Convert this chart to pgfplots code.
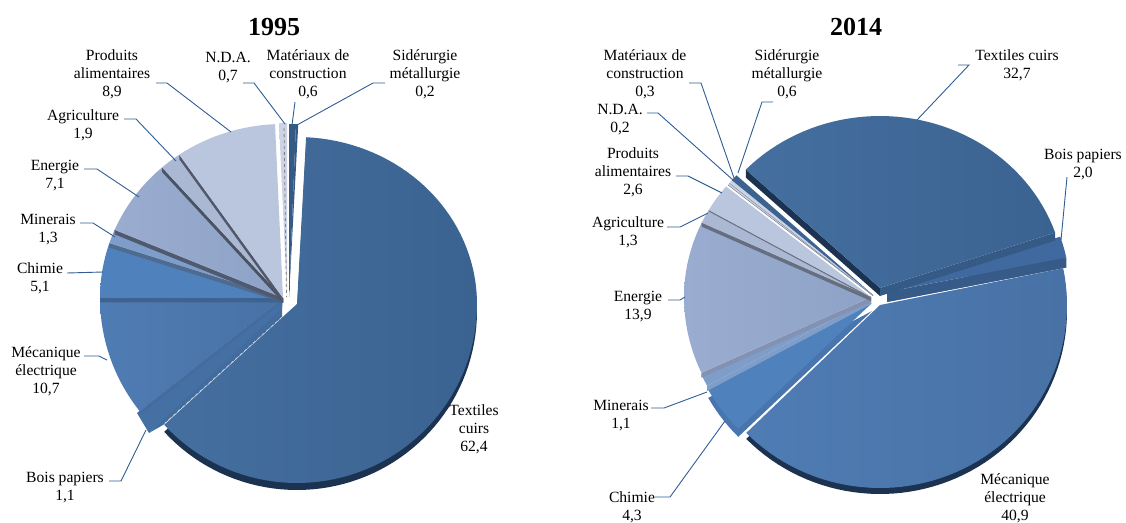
\documentclass[border=0pt]{standalone}
\usepackage{fontspec}
\setmainfont{Liberation Serif}
\usepackage{pgfplots}
\pgfplotsset{compat=1.18}

% Slice colours
\definecolor{leader}{HTML}{2F5D94}
\definecolor{texL}{HTML}{446F9F}\definecolor{texR}{HTML}{3B6391}
\definecolor{mecL}{HTML}{4F7CB4}\definecolor{mecR}{HTML}{4872A6}
\definecolor{chi}{HTML}{4F81BD}
\definecolor{mine}{HTML}{7E9DC9}
\definecolor{eneL}{HTML}{9AADD0}\definecolor{eneR}{HTML}{8EA2C7}
\definecolor{agri}{HTML}{ABB8D4}
\definecolor{prod}{HTML}{BAC6DE}
\definecolor{nda}{HTML}{CBD3E5}
\definecolor{dark}{HTML}{345A85}
\definecolor{rim}{HTML}{1B3350}
\definecolor{bois}{HTML}{4570A4}\definecolor{boisw}{HTML}{426B9E}
\definecolor{mecw}{HTML}{446C9E}\definecolor{chiw}{HTML}{3F6390}
\definecolor{minw}{HTML}{4F6B90}\definecolor{enew}{HTML}{4F5A6E}
\definecolor{agrw}{HTML}{4A5362}\definecolor{prow}{HTML}{50586A}
\definecolor{chiwb}{HTML}{4875AD}\definecolor{enewb}{HTML}{8391B3}
\definecolor{agrwb}{HTML}{666F80}\definecolor{prowb}{HTML}{6B7385}
\definecolor{ndawb}{HTML}{7A8290}\definecolor{matwb}{HTML}{8A93A5}
\definecolor{sidb}{HTML}{3B6391}\definecolor{boiswb}{HTML}{375B88}
\definecolor{boisb}{HTML}{406A9F}

% Ellipse of the current pie: centre, x radius, back and front y radii
\newcommand\pieat[5]{\def\pcx{#1}\def\pcy{#2}\def\prx{#3}\def\pryb{#4}\def\pryf{#5}}
% Angle of the first slice, clockwise from the top
\newcommand\pieoff[1]{\def\poff{#1}}

% Outline of a slice: start share, share, downward shift; result in \ptsG
\newcommand\slicepts[3]{%
  \pgfmathsetmacro\pa{\poff+#1*3.6}%
  \pgfmathsetmacro\psw{#2*3.6}%
  \pgfmathtruncatemacro\pn{max(2,ceil(\psw/2.5))}%
  \pgfmathsetmacro\pyc{\pcy+#3}%
  \xdef\ptsG{(\pcx,\pyc) }%
  \foreach \i in {0,...,\pn}{%
    \pgfmathsetmacro\pth{\pa+\psw/\pn*\i}%
    \pgfmathsetmacro\prr{cos(\pth)>0?\pryb:\pryf}%
    \pgfmathsetmacro\pxx{\pcx+\prx*sin(\pth)}%
    \pgfmathsetmacro\pyy{\pyc-\prr*cos(\pth)}%
    \xdef\ptsG{\ptsG(\pxx,\pyy) }%
  }%
  \xdef\ptsG{\ptsG(\pcx,\pyc)}%
}
% Top face with a left-to-right shade
\newcommand\slicetop[4]{%
  \slicepts{#1}{#2}{0}%
  \edef\tmp{\noexpand\addplot[draw=none,left color=#3,right color=#4] coordinates {\ptsG};}\tmp
}
% Outer rim: the same slice pushed down
\newcommand\slicerim[4]{%
  \slicepts{#1}{#2}{#4}%
  \edef\tmp{\noexpand\addplot[draw=none,fill=#3] coordinates {\ptsG};}\tmp
}
% Cut wall along the radius at a given share
\newcommand\slicewall[3]{%
  \pgfmathsetmacro\pth{\poff+#1*3.6}%
  \pgfmathsetmacro\prr{cos(\pth)>0?\pryb:\pryf}%
  \pgfmathsetmacro\pxx{\pcx+\prx*sin(\pth)}%
  \pgfmathsetmacro\pyy{\pcy-\prr*cos(\pth)}%
  \pgfmathsetmacro\pyz{\pyy+#3}%
  \pgfmathsetmacro\pyc{\pcy+#3}%
  \edef\tmp{\noexpand\addplot[draw=none,fill=#2] coordinates {(\pcx,\pcy) (\pxx,\pyy) (\pxx,\pyz) (\pcx,\pyc)};}\tmp
}

\tikzset{lbl/.style={align=center,inner sep=0pt,yshift=-1.3pt,font=\fontsize{15.6}{18.3}\selectfont,text=black},
         ttl/.style={inner sep=0pt,font=\fontsize{26}{28}\selectfont\bfseries,text=black}}
\pgfplotsset{lead/.style={color=leader,line width=0.9pt}}

\begin{document}
\begin{tikzpicture}
\begin{axis}[scale only axis,width=1126pt,height=522pt,xmin=0,xmax=1126,ymin=0,ymax=522,
  y dir=reverse,hide axis,clip=false,enlargelimits=false]

% ---------- 1995 ----------
\pieoff{2.9}
\pieat{297}{304}{180}{167}{179}
\slicerim{0}{62.4}{rim}{7}
\slicetop{0}{62.4}{texL}{texR}

% Bois papiers: the narrow slice and its cut face, closing on the textile slice
\addplot[draw=none,fill=boisw] coordinates {(282,302) (149,433) (163,425) (282,317)};
\addplot[draw=none,fill=bois] coordinates {(283,298) (137,413) (149,433) (282,308)};
\addplot[color=white!75!leader,line width=0.6pt,dashed] coordinates {(282,317) (165,423)};

\pieat{283}{298}{183}{174}{182}
\slicewall{63.5}{mecw}{4}
\slicetop{63.5}{10.7}{mecL}{mecR}
\slicewall{74.2}{chiw}{4.5}
\slicetop{74.2}{5.1}{chi}{chi}
\slicewall{79.3}{minw}{4.5}
\slicetop{79.3}{1.3}{mine}{mine}
\slicewall{80.6}{enew}{4.5}
\slicetop{80.6}{7.1}{eneL}{eneR}
\slicewall{87.7}{agrw}{4.5}
\slicetop{87.7}{1.9}{agri}{agri}
\slicewall{89.6}{prow}{4.5}
\slicetop{89.6}{8.9}{prod}{prod}
\pieat{287}{297}{183}{174}{182}
\slicetop{98.5}{0.7}{nda}{nda}
\addplot[color=gray,line width=0.8pt,dashed] coordinates {(284,128) (286.5,297)};
\pieat{289}{297}{183}{173}{182}
\slicetop{99.2}{0.6}{dark}{dark}
\slicetop{99.8}{0.2}{dark}{dark}

% ---------- 2014 ----------
\pieoff{-46.5}
\pieat{880}{305}{187}{183}{183}
\slicerim{34.7}{40.9}{rim}{6}
\slicetop{34.7}{40.9}{mecL}{mecR}

\pieat{872}{303}{187}{175}{180}
\slicerim{75.6}{4.3}{chiwb}{8}
\slicetop{75.6}{4.3}{chi}{chi}
\pieat{871}{299}{187}{175}{180}
\slicewall{79.9}{mine}{5}
\slicetop{79.9}{1.1}{mine}{mine}
\pieat{871}{297}{187}{175}{180}
\slicewall{81.0}{enewb}{5}
\slicetop{81.0}{13.9}{eneL}{eneR}
\slicewall{94.9}{agrwb}{4}
\slicetop{94.9}{1.3}{agri}{agri}
\slicewall{96.2}{prowb}{1.5}
\slicetop{96.2}{2.6}{prod}{prod}
\pieat{873}{295}{187}{175}{180}
\slicewall{98.8}{ndawb}{1}
\slicetop{98.8}{0.2}{nda}{nda}
\slicewall{99.0}{matwb}{1}
\slicetop{99.0}{0.3}{nda}{nda}
\slicetop{99.3}{0.6}{sidb}{sidb}

\pieat{887}{292}{183}{172}{172}
\slicerim{32.7}{2.0}{boiswb}{10}
\slicewall{34.7}{boiswb}{10}
\slicetop{32.7}{2.0}{boisb}{boisb}

\pieat{880}{288}{185}{172}{172}
\slicewall{0}{rim}{8}
\slicewall{32.7}{dark}{8}
\slicetop{0}{32.7}{texL}{texR}

% ---------- Leader lines ----------
\addplot[lead] coordinates {(156,83) (167,83) (231,132)};
\addplot[lead] coordinates {(243,83) (254,83) (285,124)};
\addplot[lead] coordinates {(295,102) (292,125)};
\addplot[lead] coordinates {(385,83) (373,83) (297,125)};
\addplot[lead] coordinates {(124,119) (136,119) (176,161)};
\addplot[lead] coordinates {(84,169) (97,169) (139,197)};
\addplot[lead] coordinates {(80,223) (93,223) (115,237)};
\addplot[lead] coordinates {(67,273) (103,272)};
\addplot[lead] coordinates {(84,356) (99,356) (107,360)};
\addplot[lead] coordinates {(109,481) (121,481) (146,430)};

\addplot[lead] coordinates {(689,83) (701,83) (734,178)};
\addplot[lead] coordinates {(773,102) (762,102) (738,173)};
\addplot[lead] coordinates {(647,113) (658,113) (733,180)};
\addplot[lead] coordinates {(676,176) (688,176) (722,193)};
\addplot[lead] coordinates {(667,227) (680,227) (708,213)};
\addplot[lead] coordinates {(668,300) (680,300) (685,297)};
\addplot[lead] coordinates {(651,408) (664,408) (707,392)};
\addplot[lead] coordinates {(655,497) (670,497) (725,421)};
\addplot[lead] coordinates {(1067,177) (1061,240)};
\addplot[lead] coordinates {(958,65) (969,65) (917,120)};

% ---------- Titles and labels ----------
\node[ttl] at (axis cs:274,27) {1995};
\node[ttl] at (axis cs:856,27) {2014};

\node[lbl] at (axis cs:112,73) {Produits\\alimentaires\\8,9};
\node[lbl] at (axis cs:228,66) {N.D.A.\\0,7};
\node[lbl] at (axis cs:308,73) {Matériaux de\\construction\\0,6};
\node[lbl] at (axis cs:425,73) {Sidérurgie\\métallurgie\\0,2};
\node[lbl] at (axis cs:83,124) {Agriculture\\1,9};
\node[lbl] at (axis cs:55,174) {Energie\\7,1};
\node[lbl] at (axis cs:48,228) {Minerais\\1,3};
\node[lbl] at (axis cs:40,277) {Chimie\\5,1};
\node[lbl] at (axis cs:46,370) {Mécanique\\électrique\\10,7};
\node[lbl] at (axis cs:65,486) {Bois papiers\\1,1};
\node[lbl] at (axis cs:474,428) {Textiles\\cuirs\\62,4};

\node[lbl] at (axis cs:645,73) {Matériaux de\\construction\\0,3};
\node[lbl] at (axis cs:787,73) {Sidérurgie\\métallurgie\\0,6};
\node[lbl] at (axis cs:1017,64) {Textiles cuirs\\32,7};
\node[lbl] at (axis cs:620,118) {N.D.A.\\0,2};
\node[lbl] at (axis cs:633,171) {Produits\\alimentaires\\2,6};
\node[lbl] at (axis cs:628,231) {Agriculture\\1,3};
\node[lbl] at (axis cs:638,305) {Energie\\13,9};
\node[lbl] at (axis cs:621,414) {Minerais\\1,1};
\node[lbl] at (axis cs:632,506) {Chimie\\4,3};
\node[lbl] at (axis cs:1015,497) {Mécanique\\électrique\\40,9};
\node[lbl] at (axis cs:1083,163) {Bois papiers\\2,0};
\end{axis}
\pgfresetboundingbox
\path (0,0) rectangle (1126pt,522pt);
\end{tikzpicture}
\end{document}
